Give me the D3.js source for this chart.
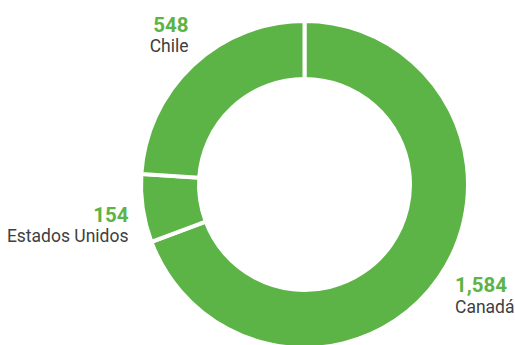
<!DOCTYPE html>
<html>
<head>
<meta charset="utf-8">
<script src="https://cdn.jsdelivr.net/npm/d3@7"></script>
<style>
  html, body { margin: 0; padding: 0; background: #fff; }
  svg { display: block; }
</style>
</head>
<body>
<svg id="chart" width="515" height="345"></svg>
<script>
// Production by country, drawn clockwise from 12 o'clock
const countries = ["Canadá", "Estados Unidos", "Chile"];
const values = [1584, 154, 548];
const valueLabels = ["1,584", "154", "548"];

const width = 515, height = 345;
const cx = 304.5, cy = 184.5;
const outerR = 163.5, innerR = 105.5;
const green = "#5cb346";
const textGrey = "#404040";

const svg = d3.select("#chart");
const g = svg.append("g").attr("transform", `translate(${cx},${cy})`);

const pie = d3.pie().sort(null).value(d => d.value);
const arc = d3.arc().innerRadius(innerR).outerRadius(outerR);

const data = countries.map((c, i) => ({ country: c, value: values[i], label: valueLabels[i] }));
const arcs = pie(data);

g.selectAll("path.slice")
  .data(arcs)
  .join("path")
  .attr("class", "slice")
  .attr("d", arc)
  .attr("fill", green)
  .attr("stroke", "#fff")
  .attr("stroke-width", 4)
  .attr("stroke-linejoin", "miter");

// Label placement per country (value above name)
const labelPos = {
  "Canadá":         { x: 455, y: 292, anchor: "start" },
  "Estados Unidos": { x: 128.5, y: 221.5, anchor: "end" },
  "Chile":          { x: 188.5, y: 31.5, anchor: "end" }
};

const labels = svg.selectAll("g.label")
  .data(data)
  .join("g")
  .attr("class", "label")
  .attr("transform", d => `translate(${labelPos[d.country].x},${labelPos[d.country].y})`)
  .attr("text-anchor", d => labelPos[d.country].anchor);

labels.append("text")
  .attr("font-family", "Roboto, 'Liberation Sans', sans-serif")
  .attr("font-weight", 700)
  .attr("font-size", 20.5)
  .attr("fill", green)
  .text(d => d.label);

labels.append("text")
  .attr("y", 20.5)
  .attr("font-family", "Roboto, 'Liberation Sans', sans-serif")
  .attr("font-size", 17.5)
  .attr("fill", textGrey)
  .text(d => d.country);
</script>
</body>
</html>
